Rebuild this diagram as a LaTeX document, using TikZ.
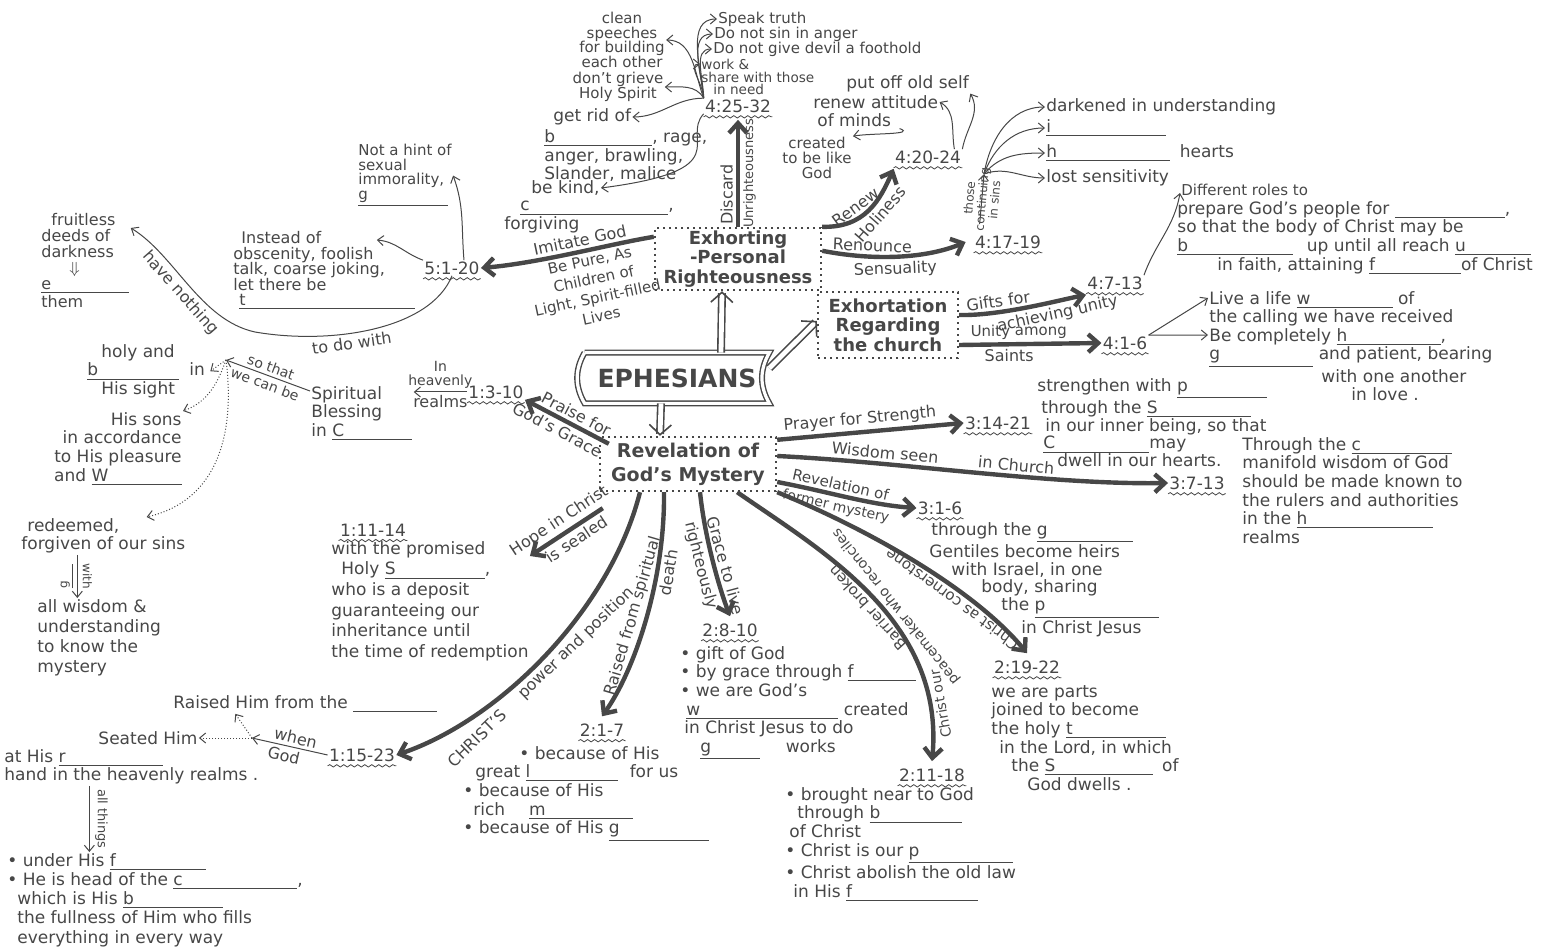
\documentclass[tikz,border=0pt]{standalone}
\usepackage{fontspec}
\setmainfont{DejaVu Sans}
\usetikzlibrary{arrows.meta}
\usetikzlibrary{calc}
\usetikzlibrary{decorations.pathmorphing}

\definecolor{ink}{gray}{0.28}
\newcommand{\fillin}[2]{\underline{\makebox[#1][l]{#2}}}

\tikzset{
  txt/.style={font=\fontsize{8.5}{9.3}\selectfont, text=ink, inner sep=0.5pt, align=left},
  tight/.style={txt, font=\fontsize{7.5}{7.3}\selectfont},
  ref/.style={txt, append after command={([yshift=-1.5pt]\tikzlastnode.south west) edge[ink, thin, decorate, decoration={snake, amplitude=0.6pt, segment length=3.5pt}] ([yshift=-1.5pt]\tikzlastnode.south east)}},
  hub/.style={draw=ink, line width=1.2pt, dash pattern=on 1.2pt off 1.8pt, text=ink, align=center, inner sep=1pt, font=\bfseries\fontsize{9}{9.8}\selectfont},
  branch/.style={draw=ink, line width=2.2pt, -{Straight Barb[length=5pt, width=9pt]}},
  twin/.style={draw=ink, line width=0.8pt, double=white, double distance=2.4pt, -{Straight Barb[length=5pt, width=11pt]}},
  twig/.style={draw=ink, line width=0.5pt, -{Straight Barb[length=3pt, width=5pt]}},
  trail/.style={twig, densely dotted},
  lbl/.style={font=\fontsize{8}{8.5}\selectfont, text=ink, inner sep=1.5pt, sloped, align=center},
  flip/.style={lbl, rotate=180, font=\fontsize{7.5}{8}\selectfont}
}

\begin{document}
\begin{tikzpicture}[x=0.5pt, y=-0.5pt]
\useasboundingbox (0,0) rectangle (1562,951);

% hubs
\node[font=\bfseries\fontsize{12.5}{13}\selectfont, text=ink, minimum width=92pt, minimum height=25pt] (eph) at (677,378) {EPHESIANS};
\draw[ink, line width=0.7pt, double, double distance=1.6pt]
  (eph.north west) -- (eph.north east) to[bend right=30] (eph.south east)
  -- (eph.south west) to[bend left=30] (eph.north west);
\node[hub, minimum width=83pt, minimum height=31pt] (per) at (738,259) {Exhorting\\-Personal\\Righteousness};
\node[hub, minimum width=70pt, minimum height=33pt] (chu) at (888,325) {Exhortation\\Regarding\\the church};
\node[hub, minimum width=88pt, minimum height=27pt, font=\bfseries\fontsize{9.5}{12}\selectfont] (rev) at (688,464) {Revelation of\\God's Mystery};

\draw[twin] ([xshift=22pt]eph.north) -- ([xshift=-8pt]per.south);
\draw[twin] ([yshift=5pt]eph.east) -- ([yshift=2pt]chu.west);
\draw[twin] ([xshift=-8pt]eph.south) -- ([xshift=-14pt]rev.north);

% verse references
\node[ref] (r2532) at (738,106) {4:25-32};
\node[ref] (r2024) at (928,157) {4:20-24};
\node[ref] (r1719) at (1008,242) {4:17-19};
\node[ref] (r0713) at (1115,283) {4:7-13};
\node[ref] (r0106) at (1125,343) {4:1-6};
\node[ref] (r5120) at (452,268) {5:1-20};
\node[ref] (r0310) at (496,392) {1:3-10};
\node[ref] (r1114) at (373,530) {1:11-14};
\node[ref] (r1523) at (362,755) {1:15-23};
\node[ref] (r0217) at (602,730) {2:1-7};
\node[ref] (r0810) at (730,630) {2:8-10};
\node[ref] (r1118) at (932,775) {2:11-18};
\node[ref] (r1922) at (1027,667) {2:19-22};
\node[ref] (r0306) at (940,508) {3:1-6};
\node[ref] (r3713) at (1197,483) {3:7-13};
\node[ref] (r1421) at (998,423) {3:14-21};

% 4:25-32
\node[tight, anchor=west] (speak) at (717,19) {Speak truth};
\node[tight, anchor=west] (sin) at (713,34) {Do not sin in anger};
\node[tight, anchor=west] (devil) at (712,49) {Do not give devil a foothold};
\node[txt, anchor=north west, font=\fontsize{6.8}{6.3}\selectfont] (work) at (700,58) {work \&\\share with those\\\hspace{6pt}in need};
\node[tight, align=center] (clean) at (622,40) {clean\\speeches\\for building\\each other};
\node[tight, align=center] (grieve) at (618,87) {don't grieve\\Holy Spirit};
\node[txt, anchor=west] (getrid) at (552,117) {get rid of};
\node[txt, anchor=north west, font=\fontsize{8.5}{8}\selectfont] (bitter) at (543,128) {\fillin{54pt}{b}, rage,\\anger, brawling,\\Slander, malice};
\node[txt, anchor=west] (bekind) at (530,188) {be kind,};
\node[txt, anchor=north west] (forgive) at (503,200) {\hspace{8pt}\fillin{74pt}{c},\\forgiving};

% 4:20-24
\node[txt, anchor=west] (putoff) at (845,84) {put off old self};
\node[txt, anchor=north west] (renew) at (812,94) {renew attitude\\\hspace{2pt}of minds};
\node[tight, align=center] (created) at (817,158) {created\\to be like\\God};

% 4:17-19
\node[txt, anchor=west] (dark) at (1045,107) {darkened in understanding};
\node[txt, anchor=west] (igno) at (1045,128) {\fillin{60pt}{i}};
\node[txt, anchor=west] (hard) at (1045,153) {\fillin{62pt}{h}\hspace{2pt} hearts};
\node[txt, anchor=west] (lost) at (1045,178) {lost sensitivity};

% 4:7-13 and 4:1-6
\node[txt, anchor=north west] (roles) at (1176,183) {\hspace{2pt}{\fontsize{7.5}{7.5}\selectfont Different roles to}\\prepare God's people for \fillin{55pt}{},\\so that the body of Christ may be\\\fillin{58pt}{b}\hspace{4pt} up until all reach \fillin{38pt}{u}\\\hspace{20pt}in faith, attaining \fillin{46pt}{f}of Christ};
\node[txt, anchor=north west] (life) at (1208,290) {Live a life \fillin{48pt}{w} of\\the calling we have received};
\node[txt, anchor=north west] (humble) at (1208,327) {Be completely \fillin{52pt}{h},\\\fillin{52pt}{g} and patient, bearing\\\hspace{56pt}with one another\\\hspace{71pt}in love .};

% 5:1-20
\node[tight, anchor=north west] (hint) at (357,143) {Not a hint of\\sexual\\immorality,\\\fillin{45pt}{g}};
\node[txt, anchor=north west, font=\fontsize{8}{7.8}\selectfont] (instead) at (232,230) {\hspace{4pt}Instead of\\obscenity, foolish\\talk, coarse joking,\\let there be\\\hspace{3pt}\fillin{88pt}{t}};
\node[txt, anchor=north west, font=\fontsize{8}{8}\selectfont] (fruit) at (40,212) {\hspace{5pt}fruitless\\deeds of\\darkness\\\hspace{14pt}$\Downarrow$\\\fillin{44pt}{e}\\them};

% 1:3-10
\node[txt, anchor=north west] (spir) at (310,385) {Spiritual\\Blessing\\in \fillin{40pt}{C}};
\node[txt, anchor=north west] (holy) at (86,343) {\hspace{7pt}holy and\\\fillin{46pt}{b}\hspace{5pt}in\\\hspace{7pt}His sight};
\node[txt, anchor=north east, align=right] (sons) at (183,411) {His sons\\in accordance\\to His pleasure\\and \fillin{45pt}{W}};
\node[txt, anchor=north west] (redeem) at (20,517) {\hspace{3pt}redeemed,\\forgiven of our sins};
\node[txt, anchor=north west, font=\fontsize{8.5}{10}\selectfont] (wisdom) at (36,598) {all wisdom \&\\understanding\\to know the\\mystery};

% 1:11-14
\node[txt, anchor=north west, font=\fontsize{8.5}{10.3}\selectfont] (t1114) at (330,540) {with the promised\\\hspace{5pt}Holy \fillin{50pt}{S},\\who is a deposit\\guaranteeing our\\inheritance until\\the time of redemption};

% 1:15-23
\node[txt, anchor=west] (raised) at (172,704) {Raised Him from the \fillin{42pt}{}};
\node[txt] (seated) at (148,738) {Seated Him};
\node[txt, anchor=north west] (athis) at (3,748) {at His \fillin{52pt}{r}\\hand in the heavenly realms .};
\node[txt, anchor=north west, font=\fontsize{8.5}{9.6}\selectfont] (under) at (6,852) {• under His \fillin{48pt}{f}\\• He is head of the \fillin{62pt}{c},\\\hspace{5pt}which is His \fillin{50pt}{b}\\\hspace{5pt}the fullness of Him who fills\\\hspace{5pt}everything in every way};

% chapter 2 and 3
\node[txt, anchor=north west] (t0217) at (462,745) {\hspace{28pt}• because of His\\\hspace{6pt}great \fillin{46pt}{l}\hspace{6pt}for us\\• because of His\\\hspace{5pt}rich\hspace{12pt}\fillin{52pt}{m}\\• because of His \fillin{50pt}{g}};
\node[txt, anchor=north west] (t0810) at (679,645) {• gift of God\\• by grace through \fillin{34pt}{f}\\• we are God's\\\hspace{3pt}\fillin{76pt}{w} created\\\hspace{2pt}in Christ Jesus to do\\\hspace{10pt}\fillin{30pt}{g}\hspace{10pt} works};
\node[txt, anchor=north west] (t1118) at (784,786) {• brought near to God\\\hspace{6pt}through \fillin{46pt}{b}\\\hspace{2pt}of Christ\\• Christ is our \fillin{52pt}{p}\\• Christ abolish the old law\\\hspace{4pt}in His \fillin{66pt}{f}};
\node[txt, anchor=north west] (t1922) at (990,684) {we are parts\\joined to become\\the holy \fillin{50pt}{t}\\\hspace{4pt}in the Lord, in which\\\hspace{10pt}the \fillin{54pt}{S}\hspace{2pt} of\\\hspace{18pt}God dwells .};
\node[txt, anchor=north west, font=\fontsize{8.5}{8.8}\selectfont] (t0306) at (928,521) {\hspace{1pt}through the \fillin{48pt}{g}\\Gentiles become heirs\\\hspace{11pt}with Israel, in one\\\hspace{26pt}body, sharing\\\hspace{36pt}the \fillin{62pt}{p}\\\hspace{46pt}in Christ Jesus};
\node[txt, anchor=north west, font=\fontsize{8.5}{8.8}\selectfont] (t1421) at (1036,377) {strengthen with \fillin{45pt}{p}\\\hspace{2pt}through the \fillin{52pt}{S}\\\hspace{4pt}in our inner being, so that\\\hspace{3pt}\fillin{53pt}{C}may\\\hspace{10pt}dwell in our hearts.};
\node[txt, anchor=north west] (t3713) at (1241,436) {Through the \fillin{50pt}{c}\\manifold wisdom of God\\should be made known to\\the rulers and authorities\\in the \fillin{68pt}{h}\\realms};

% branches of personal righteousness
\draw[branch] (per.north) -- node[lbl, above, pos=0.3] {Discard}
  node[lbl, below, pos=0.5, font=\fontsize{6.5}{7}\selectfont] {Unrighteousness} ([yshift=-3pt]r2532.south);
\draw[branch] ([yshift=-5pt]per.north west) .. controls (610,244) and (540,263) .. (r5120.east)
  node[lbl, above, pos=0.45] {Imitate God}
  node[lbl, below, pos=0.42, font=\fontsize{7.5}{9.4}\selectfont] {Be Pure, As\\Children of\\Light, Spirit-filled\\Lives};
\draw[branch] (per.north east) .. controls (865,228) and (880,200) .. ([yshift=-2pt]r2024.south west)
  node[lbl, above, pos=0.4] {Renew} node[lbl, below, pos=0.55] {Holiness};
\draw[branch] ([yshift=-12pt]per.north east) .. controls (880,262) and (930,257) .. ([xshift=-4pt]r1719.west)
  node[lbl, above, pos=0.3] {Renounce} node[lbl, below, pos=0.45] {Sensuality};

% branches of the church
\draw[branch] ([yshift=5pt]chu.east) .. controls (1000,316) and (1060,300) .. ([yshift=-2pt]r0713.south west)
  node[lbl, above, pos=0.3] {Gifts for} node[lbl, below, pos=0.7] {achieving unity};
\draw[branch] ([yshift=-10pt]chu.east) -- (r0106.west)
  node[lbl, above, pos=0.42, font=\fontsize{7.5}{8}\selectfont] {Unity among} node[lbl, below, pos=0.35] {Saints};

% branches of the mystery
\draw[branch] ([xshift=5pt, yshift=-4pt]rev.north west) -- (r0310.south east)
  node[lbl, above, pos=0.45] {Praise for} node[lbl, below, pos=0.55] {God's Grace};
\draw[branch] ([yshift=-2pt]rev.north east) -- (r1421.west)
  node[lbl, above, pos=0.45] {Prayer for Strength};
\draw[branch] ([yshift=4pt]rev.east) .. controls (900,462) and (1050,485) .. (r3713.west)
  node[lbl, above, pos=0.42] {Wisdom seen\hspace{20pt}in Church};
\draw[branch] ([yshift=-9pt]rev.east) .. controls (830,492) and (870,505) .. (r0306.west)
  node[lbl, above, pos=0.42, font=\fontsize{7.5}{8}\selectfont] {Revelation of}
  node[lbl, below, pos=0.42, font=\fontsize{7}{7.5}\selectfont] {former mystery};
\draw[branch] (rev.south east) .. controls (870,530) and (975,590) .. ([yshift=3pt]r1922.north)
  node[flip, above, pos=0.66] {Christ as cornerstone};
\draw[branch] ([xshift=-20pt]rev.south east) .. controls (820,550) and (945,620) .. ([yshift=3pt]r1118.north)
  node[flip, below, pos=0.57, font=\fontsize{7}{7.5}\selectfont] {peacemaker who reconciles}
  node[flip, below, pos=0.86, font=\fontsize{7}{7.5}\selectfont] {Christ our}
  node[flip, above, pos=0.52] {Barrier broken};
\draw[branch] ([xshift=6pt]rev.south) .. controls (705,540) and (720,590) .. ([yshift=3pt]r0810.north)
  node[lbl, above, pos=0.55] {Grace to live} node[lbl, below, pos=0.5] {righteously};
\draw[branch] ([xshift=-12pt]rev.south) .. controls (665,580) and (635,670) .. ([yshift=3pt]r0217.north)
  node[lbl, above, pos=0.5] {Raised from spiritual} node[lbl, below, pos=0.3] {death};
\draw[branch] ([xshift=-24pt]rev.south) .. controls (610,610) and (500,720) .. (r1523.east)
  node[lbl, below, pos=0.55] {CHRIST'S\hspace{12pt}power and position};
\draw[branch] ([xshift=2pt, yshift=-8pt]rev.south west) -- ([yshift=-8pt]t1114.north east)
  node[lbl, above, pos=0.5] {Hope in Christ} node[lbl, below, pos=0.45] {is sealed};

% twigs of 4:25-32
\draw[twig] (r2532.north west) to[out=95, in=180] (speak.west);
\draw[twig] (r2532.north west) to[out=95, in=180] (sin.west);
\draw[twig] (r2532.north west) to[out=90, in=180] (devil.west);
\draw[twig] (r2532.north west) to[out=90, in=180] ([yshift=-3pt]work.north west);
\draw[twig] (r2532.north west) to[out=110, in=0] (clean.east);
\draw[twig] (r2532.north west) to[out=120, in=0] (grieve.east);
\draw[twig] (r2532.north west) to[out=180, in=0] (getrid.east);
\draw[twig] (r2532.south west) .. controls (680,140) and (740,170) .. (bekind.east);

% twigs of 4:20-24
\draw[twig] (r2024.north east) to[out=80, in=-60] (putoff.south east);
\draw[twig] ([xshift=-4pt]r2024.north east) to[out=100, in=-30] ([yshift=-4pt]renew.north east);
\draw[twig] ([xshift=-20pt]renew.south east) to[out=-20, in=10] (created.north east);

% twigs of 4:17-19
\coordinate (stem) at (984,174);
\draw[twig] ([xshift=3pt, yshift=5pt]r1719.north west) -- node[lbl, font=\fontsize{6}{6.3}\selectfont] {those\\continuing\\in sins} (stem);
\draw[twig] (stem) to[out=80, in=180] (dark.west);
\draw[twig] (stem) to[out=70, in=180] (igno.west);
\draw[twig] (stem) to[out=50, in=180] (hard.west);
\draw[twig] (stem) to[out=20, in=180] (lost.west);

% twigs of 4:7-13 and 4:1-6
\draw[twig] (r0713.north east) to[out=70, in=-100] ([shift={(2pt,-5pt)}]roles.north west);
\draw[twig] (r0106.north east) -- ([yshift=-4pt]life.north west);
\draw[twig] (r0106.north east) -- ([yshift=-4pt]humble.north west);

% twigs of 5:1-20
\draw[twig] ([xshift=6pt]r5120.north) to[out=95, in=-70] (hint.east);
\draw[twig] (r5120.north west) to[out=160, in=-5] ([shift={(-20pt,-5pt)}]instead.north east);
\draw[twig] (r5120.south) .. controls (430,330) and (330,345) .. (255,332)
  node[lbl, below, pos=0.6] {to do with}
  .. controls (200,320) and (175,255) .. ([yshift=-8pt]fruit.north east)
  node[lbl, below, pos=0.5] {have nothing};

% twigs of 1:3-10
\draw[twig] (r0310.west) -- (spir.east |- r0310.west)
  node[lbl, above, pos=0.5, font=\fontsize{7}{7}\selectfont] {In\\heavenly} node[lbl, below, pos=0.5] {realms};
\coordinate (sow) at (226,360);
\draw[twig] ([yshift=-3pt]spir.north west) -- (sow)
  node[lbl, above, pos=0.5, font=\fontsize{7}{7}\selectfont] {so that} node[lbl, below, pos=0.5, font=\fontsize{7}{7}\selectfont] {we can be};
\draw[trail] (sow) -- ([xshift=2pt]holy.east);
\draw[trail] (sow) to[out=-110, in=20] (sons.north east);
\draw[trail] (sow) .. controls (235,430) and (220,500) .. ([xshift=-20pt]redeem.north east);
\coordinate (gw) at ([xshift=-13pt]redeem.south);
\draw[twig] (gw) -- (gw |- wisdom.north)
  node[midway, xshift=-5pt, rotate=90, text=ink, font=\fontsize{6}{6}\selectfont] {\fillin{12pt}{g}}
  node[midway, xshift=5pt, rotate=-90, text=ink, font=\fontsize{6}{6}\selectfont] {with};

% twigs of 1:15-23
\coordinate (wgod) at (252,738);
\draw[twig] (r1523.west) -- (wgod) node[lbl, above, pos=0.45] {when} node[lbl, below, pos=0.55] {God};
\draw[trail] (wgod) -- ([xshift=-35pt]raised.south);
\draw[trail] (wgod) -- (seated.east);
\coordinate (allth) at ([xshift=-21pt]athis.south);
\draw[twig] (allth) -- (allth |- under.north)
  node[midway, xshift=6pt, rotate=-90, text=ink, font=\fontsize{6.5}{6.5}\selectfont] {all things};
\end{tikzpicture}
\end{document}
